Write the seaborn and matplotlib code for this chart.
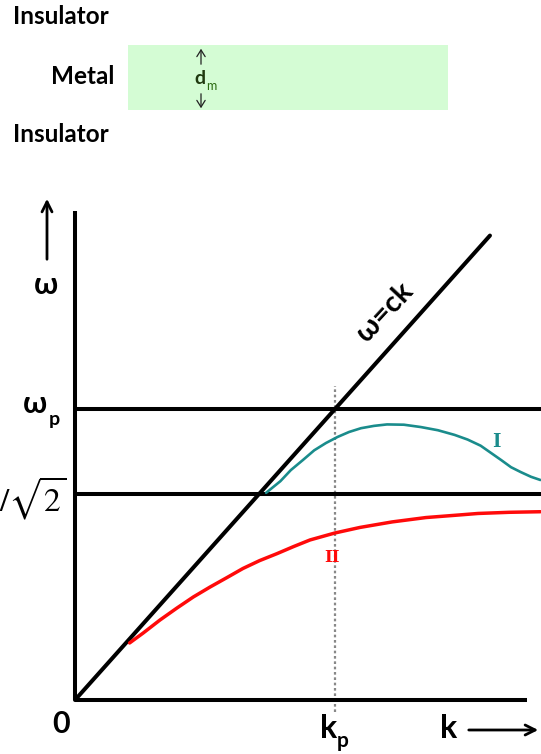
import numpy as np
import pandas as pd
import matplotlib
matplotlib.use("Agg")
import matplotlib.pyplot as plt
from matplotlib.patches import Rectangle
import seaborn as sns

# ---------------- data (k in units of k_p, omega in units of omega_p) ----------------
omega_p = 1.0
omega_sp = omega_p / np.sqrt(2)
k_p = 1.0

k_light = [0.0, 1.596]
w_light = [0.0, 1.596]

k_I = [0.735, 0.79, 0.83, 0.877, 0.92, 0.965, 1.01, 1.054, 1.10, 1.15, 1.20, 1.265,
       1.33, 1.396, 1.46, 1.51, 1.56, 1.60, 1.64, 1.677, 1.715, 1.754, 1.79]
w_I = [0.712, 0.752, 0.79, 0.825, 0.858, 0.883, 0.904, 0.921, 0.934, 0.942, 0.947, 0.946,
       0.938, 0.927, 0.911, 0.895, 0.874, 0.849, 0.824, 0.80, 0.783, 0.767, 0.756]

k_II = [0.21, 0.262, 0.327, 0.392, 0.455, 0.519, 0.585, 0.646, 0.71, 0.777, 0.84, 0.904,
        1.0, 1.096, 1.22, 1.35, 1.48, 1.55, 1.67, 1.79]
w_II = [0.196, 0.230, 0.275, 0.316, 0.354, 0.388, 0.421, 0.452, 0.479, 0.503, 0.527, 0.550,
        0.574, 0.593, 0.612, 0.627, 0.636, 0.641, 0.645, 0.647]

# ---------------- figure ----------------
W, H = 541, 754
sns.set_theme(style="white")
plt.rcParams['font.family'] = ['Lato', 'DejaVu Sans']
plt.rcParams['mathtext.fontset'] = 'stix'

fig = plt.figure(figsize=(W / 100, H / 100), dpi=100)
fig.patch.set_facecolor('white')
ax = fig.add_axes([0, 0, 1, 1])
X0, Y0, SX, SY = 75, 700, 260.0, 291.0   # pixel origin and scale
ax.set_xlim(-X0 / SX, (W - X0) / SX)
ax.set_ylim(-(H - Y0) / SY, Y0 / SY)
ax.axis('off')


def fx(px):
    return px / W


def fy(py):
    return 1 - py / H


# axes lines
ax.plot([0, 0], [0, (Y0 - 211) / SY], color='black', lw=2.9, solid_capstyle='butt', zorder=3)
ax.plot([0, (527 - X0) / SX], [0, 0], color='black', lw=2.9, solid_capstyle='butt', zorder=3)

# horizontal levels
xr = (W - X0) / SX
ax.plot([0, xr], [omega_p, omega_p], color='black', lw=2.9, zorder=3)
ax.plot([0, xr], [omega_sp, omega_sp], color='black', lw=2.9, zorder=3)

# dotted k_p
ax.plot([k_p, k_p], [-0.04, 1.08], color='#888888', lw=1.6, ls=(0, (1.2, 1.2)), zorder=2)

# light line
sns.lineplot(x=k_light, y=w_light, ax=ax, color='black', lw=2.9, zorder=4, legend=False)
# curves
sns.lineplot(x=k_I, y=w_I, ax=ax, color='#1a8c8c', lw=1.9, zorder=5, legend=False, sort=False)
sns.lineplot(x=k_II, y=w_II, ax=ax, color='#ff0a0a', lw=2.5, zorder=5, legend=False, sort=False)

# ---------------- labels ----------------
bold = dict(fontweight='bold', color='black')
# omega arrow and label
ax.annotate('', xy=(47, H - 196), xytext=(47, H - 262), xycoords='figure pixels',
            textcoords='figure pixels',
            arrowprops=dict(arrowstyle='->,head_length=0.6,head_width=0.3', lw=2.0, color='black'))
fig.text(fx(46), fy(285), 'ω', ha='center', va='center', fontsize=22, **bold)

# omega_p
fig.text(fx(47), fy(404), 'ω', ha='right', va='center', fontsize=22, **bold)
fig.text(fx(49), fy(420), 'p', ha='left', va='center', fontsize=14, **bold)

# omega_p / sqrt2 (clipped at left edge as in the original)
fig.text(fx(66), fy(499), r'$\omega_p/\sqrt{2}$', ha='right', va='center', fontsize=24, color='black')

# omega = ck
fig.text(fx(385), fy(312), 'ω=ck', ha='center', va='center', rotation=47,
         rotation_mode='anchor', fontsize=21, **bold)

# 0, k_p, k
fig.text(fx(61), fy(724), '0', ha='center', va='center', fontsize=22, **bold)
fig.text(fx(337), fy(729), 'k', ha='right', va='center', fontsize=23, **bold)
fig.text(fx(337), fy(741), 'p', ha='left', va='center', fontsize=15, **bold)
fig.text(fx(449), fy(729), 'k', ha='center', va='center', fontsize=23, **bold)
ax.annotate('', xy=(541, H - 730), xytext=(466, H - 730), xycoords='figure pixels',
            textcoords='figure pixels',
            arrowprops=dict(arrowstyle='->,head_length=0.6,head_width=0.3', lw=2.0, color='black'))

# curve labels
fig.text(fx(496), fy(442), 'I', ha='center', va='center', fontsize=13, fontweight='bold',
         family='DejaVu Serif', color='#1a8c8c')
fig.text(fx(332), fy(557), 'II', ha='center', va='center', fontsize=12, fontweight='bold',
         family='DejaVu Serif', color='#ff0a0a')

# ---------------- top diagram ----------------
fig.text(fx(13), fy(17), 'Insulator', ha='left', va='center', fontsize=17.5, **bold)
fig.text(fx(114), fy(76), 'Metal', ha='right', va='center', fontsize=17.5, **bold)
fig.text(fx(13), fy(134), 'Insulator', ha='left', va='center', fontsize=17.5, **bold)
rect = Rectangle((fx(128), fy(110)), fx(448) - fx(128), fy(45) - fy(110),
                 transform=fig.transFigure, facecolor='#d4fcd4', edgecolor='none', zorder=0)
fig.add_artist(rect)
ax.annotate('', xy=(201, H - 46), xytext=(201, H - 67), xycoords='figure pixels',
            textcoords='figure pixels',
            arrowprops=dict(arrowstyle='->,head_length=0.4,head_width=0.25', lw=0.9, color='#222222'))
ax.annotate('', xy=(201, H - 111), xytext=(201, H - 91), xycoords='figure pixels',
            textcoords='figure pixels',
            arrowprops=dict(arrowstyle='->,head_length=0.4,head_width=0.25', lw=0.9, color='#222222'))
fig.text(fx(200), fy(79), 'd', ha='center', va='center', fontsize=14, fontweight='bold', color='#203a10')
fig.text(fx(206), fy(86), 'm', ha='left', va='center', fontsize=9, color='#2a6a10')

fig.savefig('out.png', dpi=100, facecolor='white')
